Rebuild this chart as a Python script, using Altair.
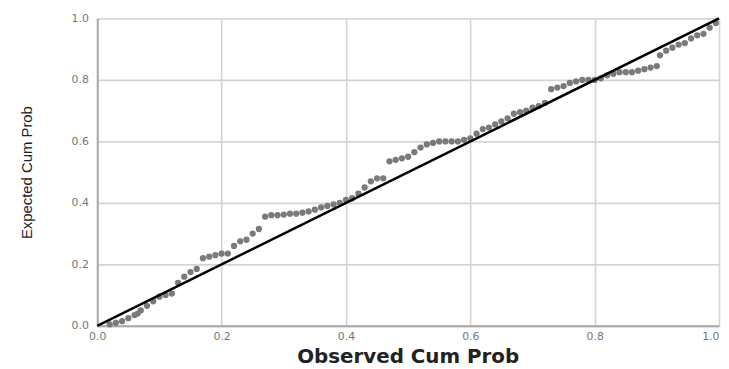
import altair as alt
import pandas as pd

observed = [0.02, 0.03, 0.04, 0.05, 0.06, 0.065, 0.07, 0.08, 0.09, 0.10,
            0.11, 0.12, 0.13, 0.14, 0.15, 0.16, 0.17, 0.18, 0.19, 0.20,
            0.21, 0.22, 0.23, 0.24, 0.25, 0.26, 0.27, 0.28, 0.29, 0.30,
            0.31, 0.32, 0.33, 0.34, 0.35, 0.36, 0.37, 0.38, 0.39, 0.40,
            0.41, 0.42, 0.43, 0.44, 0.45, 0.46, 0.47, 0.48, 0.49, 0.50,
            0.51, 0.52, 0.53, 0.54, 0.55, 0.56, 0.57, 0.58, 0.59, 0.60,
            0.61, 0.62, 0.63, 0.64, 0.65, 0.66, 0.67, 0.68, 0.69, 0.70,
            0.71, 0.72, 0.73, 0.74, 0.75, 0.76, 0.77, 0.78, 0.79, 0.80,
            0.81, 0.82, 0.83, 0.84, 0.85, 0.86, 0.87, 0.88, 0.89, 0.90,
            0.905, 0.915, 0.925, 0.935, 0.945, 0.955, 0.965, 0.975, 0.985, 0.995]
expected = [0.005, 0.01, 0.015, 0.025, 0.035, 0.04, 0.05, 0.065, 0.08, 0.095,
            0.10, 0.105, 0.14, 0.16, 0.175, 0.185, 0.22, 0.225, 0.23, 0.235,
            0.235, 0.26, 0.275, 0.28, 0.30, 0.315, 0.355, 0.36, 0.36, 0.362,
            0.365, 0.365, 0.368, 0.372, 0.378, 0.385, 0.39, 0.395, 0.40, 0.41,
            0.415, 0.43, 0.45, 0.47, 0.48, 0.48, 0.535, 0.54, 0.545, 0.55,
            0.565, 0.58, 0.59, 0.595, 0.60, 0.60, 0.60, 0.60, 0.605, 0.61,
            0.625, 0.64, 0.645, 0.655, 0.665, 0.675, 0.69, 0.695, 0.70, 0.71,
            0.715, 0.725, 0.77, 0.775, 0.78, 0.79, 0.795, 0.80, 0.80, 0.80,
            0.805, 0.815, 0.82, 0.825, 0.825, 0.825, 0.83, 0.835, 0.84, 0.845,
            0.88, 0.895, 0.905, 0.915, 0.92, 0.935, 0.945, 0.95, 0.97, 0.985]

ref_x = [0.0, 1.0]
ref_y = [0.0, 1.0]
ticks = [0.0, 0.2, 0.4, 0.6, 0.8, 1.0]

pts = pd.DataFrame({"obs": observed, "exp": expected})
ref = pd.DataFrame({"obs": ref_x, "exp": ref_y})

xscale = alt.Scale(domain=[0, 1], nice=False)
yscale = alt.Scale(domain=[0, 1], nice=False)

xaxis = alt.Axis(title="Observed Cum Prob", values=ticks, format=".1f",
                 grid=True, gridColor="#d4d4d4", gridWidth=1.6,
                 domainColor="#a8a8a8", domainWidth=2, ticks=False,
                 labelFont="DejaVu Sans", labelFontSize=11, labelColor="#777777",
                 labelPadding=5, labelFlush=False,
                 labelAlign=alt.ExprRef(expr="datum.value >= 1 ? 'right' : 'center'"),
                 titleFont="DejaVu Sans", titleFontSize=20, titleFontWeight="bold",
                 titleColor="#222222", titleX=313, titleY=31, titleBaseline="middle")
yaxis = alt.Axis(title="Expected Cum Prob", values=ticks, format=".1f",
                 grid=True, gridColor="#d4d4d4", gridWidth=1.6,
                 domainColor="#a8a8a8", domainWidth=2, ticks=False,
                 labelFont="DejaVu Sans", labelFontSize=11, labelColor="#777777",
                 labelPadding=9, labelFlush=False,
                 titleFont="Liberation Sans", titleFontSize=15, titleFontWeight="normal",
                 titleColor="#222222", titleX=-71, titleY=155, titleBaseline="middle")

points = alt.Chart(pts).mark_point(filled=True, shape="circle", size=40,
                                   color="#7a7a7a", opacity=1).encode(
    x=alt.X("obs:Q", scale=xscale, axis=xaxis),
    y=alt.Y("exp:Q", scale=yscale, axis=yaxis),
)

line = alt.Chart(ref).mark_line(color="#000000", strokeWidth=2.5).encode(
    x=alt.X("obs:Q", scale=xscale),
    y=alt.Y("exp:Q", scale=yscale),
)

chart = alt.layer(points, line).properties(
    width=627, height=310,
    autosize=alt.AutoSizeParams(type="none"),
    padding={"left": 90, "top": 9, "right": 2, "bottom": 40},
).configure_view(stroke=None).configure(background="white")

chart.save("out.html", embed_options={"renderer": "svg", "actions": False})
